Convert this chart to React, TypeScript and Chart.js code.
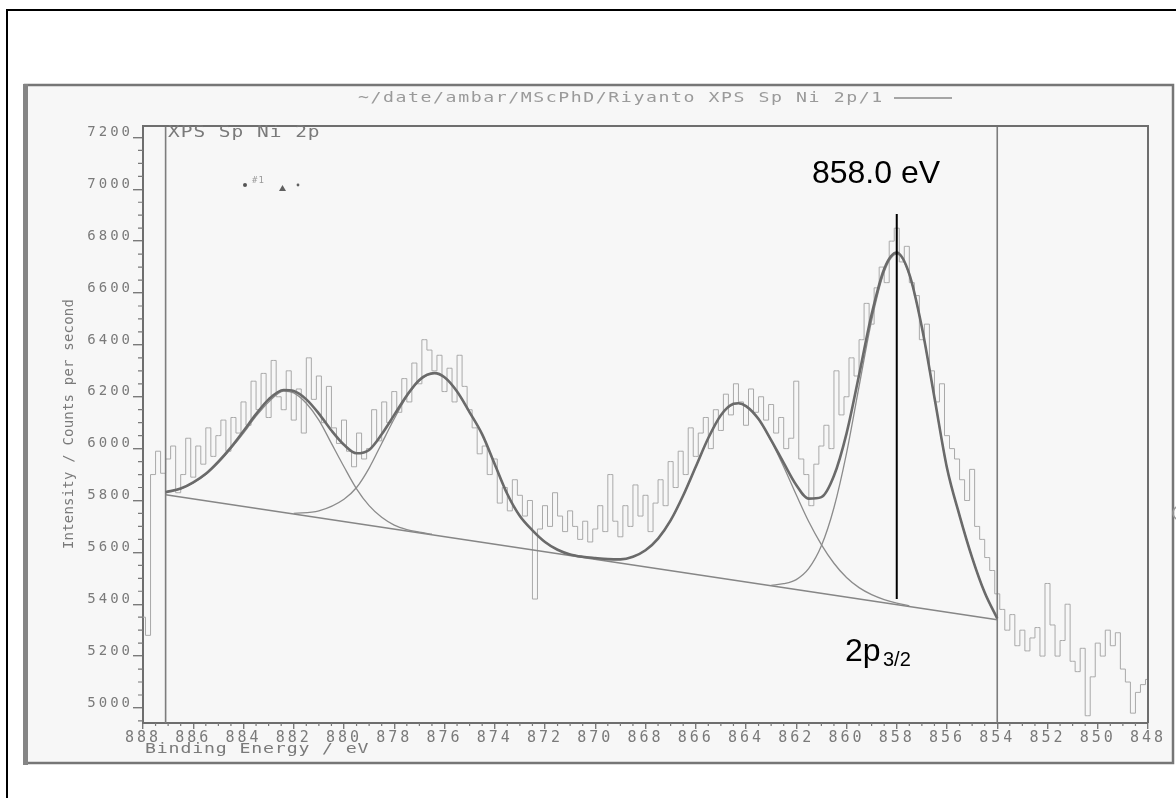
import { useEffect, useRef } from "react";
import { Chart, registerables } from "chart.js";

Chart.register(...registerables);

// Raw Ni 2p spectrum, counts per second, sampled every 0.2 eV from 888.0 eV downwards
const RAW_FIRST_EV = 888.0;
const RAW_STEP_EV = 0.2;
const RAW_CPS = [
  5350, 5280, 5900, 5990, 5905, 5960, 6010, 5830, 5900, 6040,
  5890, 6010, 5940, 6080, 5970, 6050, 6110, 5990, 6120, 6060,
  6180, 6090, 6260, 6150, 6290, 6120, 6340, 6200, 6150, 6300,
  6110, 6230, 6060, 6350, 6190, 6280, 6100, 6240, 6080, 6020,
  6110, 5990, 5930, 6060, 5960, 6000, 6150, 6030, 6180, 6100,
  6220, 6140, 6270, 6180, 6330, 6250, 6420, 6380, 6300, 6360,
  6220, 6310, 6180, 6360, 6240, 6150, 6080, 5980, 6010, 5900,
  5960, 5790, 5850, 5760, 5880, 5820, 5740, 5800, 5420, 5690,
  5780, 5700, 5830, 5740, 5680, 5760, 5700, 5650, 5720, 5640,
  5690, 5780, 5680, 5900, 5720, 5660, 5780, 5700, 5860, 5740,
  5820, 5680, 5790, 5880, 5780, 5950, 5850, 5990, 5900, 6080,
  5970, 6060, 6120, 6000, 6150, 6070, 6210, 6130, 6250, 6180,
  6090, 6230, 6140, 6200, 6110, 6170, 6060, 6120, 6000, 6040,
  6260, 5960, 5900, 5780, 5940, 6010, 6090, 6000, 6300, 6130,
  6200, 6350, 6280, 6420, 6560, 6480, 6620, 6700, 6640, 6800,
  6850, 6720, 6780, 6640, 6590, 6420, 6480, 6300, 6180, 6250,
  6050, 6000, 5960, 5880, 5800, 5920, 5700, 5650, 5580, 5530,
  5440, 5380, 5300, 5360, 5240, 5300, 5220, 5270, 5310, 5200,
  5480, 5320, 5200, 5260, 5400, 5180, 5140, 5230, 4970, 5120,
  5250, 5200, 5300, 5240, 5290, 5150, 5100, 4980, 5060, 5090,
  5110,
];

// Fitted envelope
const ENV_EV = [
  887.1, 886.5, 886.0, 885.5, 885.0, 884.5, 884.0, 883.5, 883.0, 882.4,
  882.0, 881.5, 881.0, 880.5, 880.0, 879.5, 879.0, 878.5, 878.0, 877.5,
  877.0, 876.4, 876.0, 875.5, 875.0, 874.5, 874.0, 873.5, 873.0, 872.5,
  872.0, 871.5, 871.0, 870.5, 870.0, 869.5, 869.0, 868.5, 868.0, 867.5,
  867.0, 866.5, 866.0, 865.5, 865.0, 864.5, 864.3, 864.0, 863.5, 863.0,
  862.5, 862.0, 861.5, 861.0, 860.5, 860.0, 859.5, 859.0, 858.5, 858.0,
  857.5, 857.0, 856.5, 856.0, 855.5, 855.0, 854.5, 854.0,
];
const ENV_CPS = [
  5832, 5846, 5870, 5903, 5950, 6005, 6068, 6133, 6190, 6226,
  6222, 6190, 6135, 6070, 6015, 5982, 5995, 6055, 6130, 6205,
  6265, 6291, 6275, 6220, 6140, 6055, 5940, 5825, 5740, 5685,
  5640, 5610, 5592, 5583, 5578, 5574, 5573, 5583, 5608, 5653,
  5723, 5819, 5930, 6041, 6129, 6173, 6175, 6164, 6114, 6033,
  5945, 5860, 5807, 5813, 5895, 6058, 6284, 6518, 6693, 6756,
  6673, 6468, 6197, 5925, 5742, 5580, 5445, 5345,
];

// Fit components (satellite and main lines)
const COMP1_EV = [887.1, 886.5, 886.0, 885.5, 885.0, 884.5, 884.0, 883.5, 883.0, 882.4, 882.0, 881.5, 881.0, 880.5, 880.0, 879.5, 879.0, 878.5, 878.0, 877.5, 877.0, 876.5];
const COMP1_CPS = [5832, 5845, 5868, 5900, 5945, 6000, 6060, 6125, 6180, 6222, 6215, 6175, 6110, 6020, 5930, 5845, 5780, 5735, 5705, 5688, 5678, 5670];
const COMP2_EV = [882.0, 881.0, 880.0, 879.5, 879.0, 878.5, 878.0, 877.5, 877.0, 876.4, 876.0, 875.5, 875.0, 874.5, 874.0, 873.5, 873.0, 872.5, 872.0, 871.5, 871.0, 870.5];
const COMP2_CPS = [5750, 5760, 5805, 5850, 5925, 6020, 6115, 6200, 6262, 6291, 6275, 6220, 6140, 6055, 5940, 5825, 5740, 5685, 5640, 5610, 5592, 5582];
const COMP3_EV = [870.0, 869.0, 868.0, 867.5, 867.0, 866.5, 866.0, 865.5, 865.0, 864.3, 864.0, 863.5, 863.0, 862.5, 862.0, 861.5, 861.0, 860.5, 860.0, 859.5, 859.0, 858.5, 858.0, 857.5];
const COMP3_CPS = [5576, 5573, 5608, 5653, 5723, 5819, 5930, 6041, 6129, 6175, 6164, 6113, 6031, 5930, 5822, 5718, 5630, 5558, 5503, 5464, 5437, 5418, 5404, 5394];
const COMP4_EV = [863.0, 862.5, 862.0, 861.5, 861.0, 860.5, 860.0, 859.5, 859.0, 858.5, 858.0, 857.5, 857.0, 856.5, 856.0, 855.5, 855.0, 854.5, 854.0];
const COMP4_CPS = [5473, 5479, 5495, 5538, 5625, 5772, 5982, 6240, 6494, 6681, 6750, 6670, 6467, 6197, 5925, 5742, 5580, 5445, 5345];

// Linear background under the fit
const BASE_EV = [887.1, 854.0];
const BASE_CPS = [5822, 5340];

// Fit window limits
const FIT_LIMITS_EV = [887.1, 854.0];

// 2p3/2 peak marker
const PEAK_EV = 858.0;
const PEAK_MARK_CPS = [5420, 6905];

const X_RANGE = [848, 888];
const Y_RANGE = [4942, 7244];
const X_TICKS = [848, 850, 852, 854, 856, 858, 860, 862, 864, 866, 868, 870, 872, 874, 876, 878, 880, 882, 884, 886, 888];
const Y_TICKS = [5000, 5200, 5400, 5600, 5800, 6000, 6200, 6400, 6600, 6800, 7000, 7200];

const MONO = "'DejaVu Sans Mono', 'Liberation Mono', monospace";
const SANS = "'Liberation Sans', Arial, sans-serif";
const SCAN_TEXT = "#7a7a7a";

const pts = (ev: number[], cps: number[]) => ev.map((e, i) => ({ x: e, y: cps[i] }));

// Text in the plotter style: optionally stretched horizontally
function drawText(ctx: any, s: string, x: number, y: number, font: string, color: string, spacing: number, align = "left", baseline = "middle", stretch = 1) {
  ctx.save();
  ctx.translate(x, y);
  ctx.scale(stretch, 1);
  ctx.font = font;
  ctx.fillStyle = color;
  ctx.letterSpacing = `${spacing}px`;
  ctx.textAlign = align;
  ctx.textBaseline = baseline;
  ctx.fillText(s, 0, 0);
  ctx.restore();
}

const scanSheet = {
  id: "scanSheet",
  beforeDraw(chart: any) {
    const ctx = chart.ctx;
    ctx.save();
    ctx.fillStyle = "#ffffff";
    ctx.fillRect(0, 0, chart.width, chart.height);
    // printed sheet
    ctx.fillStyle = "#f7f7f7";
    ctx.fillRect(25, 85, 1148, 678);
    ctx.strokeStyle = "#767676";
    ctx.lineWidth = 2.5;
    ctx.strokeRect(25, 85, 1148, 678);
    ctx.fillStyle = "#858585";
    ctx.fillRect(23, 84, 5, 681);
    // outer page rule
    ctx.strokeStyle = "#000000";
    ctx.lineWidth = 2;
    ctx.beginPath();
    ctx.moveTo(7, 798);
    ctx.lineTo(7, 10);
    ctx.lineTo(1176, 10);
    ctx.stroke();
    ctx.restore();
    ctx.letterSpacing = "3px";
  },
  afterDraw(chart: any) {
    const ctx = chart.ctx;
    const a = chart.chartArea;
    const xs = chart.scales.x;
    const ys = chart.scales.y;
    ctx.letterSpacing = "0px";
    ctx.save();
    // top and right edges of the plot box
    ctx.strokeStyle = "#6e6e6e";
    ctx.lineWidth = 2;
    ctx.beginPath();
    ctx.moveTo(a.left, a.top);
    ctx.lineTo(a.right, a.top);
    ctx.lineTo(a.right, a.bottom);
    ctx.stroke();
    // minor ticks
    ctx.strokeStyle = "#7a7a7a";
    ctx.lineWidth = 1.2;
    ctx.beginPath();
    for (let v = 4950; v <= Y_RANGE[1]; v += 50) {
      if (v % 200 === 0) continue;
      const py = ys.getPixelForValue(v);
      ctx.moveTo(a.left - 5, py);
      ctx.lineTo(a.left, py);
    }
    for (let k = X_RANGE[0] * 2 + 1; k < X_RANGE[1] * 2; k++) {
      if (k % 4 === 0) continue;
      const px = xs.getPixelForValue(k / 2);
      ctx.moveTo(px, a.bottom);
      ctx.lineTo(px, a.bottom + 3);
    }
    ctx.stroke();

    // header line of the printout
    drawText(ctx, "~/date/ambar/MScPhD/Riyanto XPS Sp Ni 2p/1", 358, 98, `14px ${MONO}`, "#9a9a9a", 1.2, "left", "middle", 1.3);
    ctx.strokeStyle = "#8a8a8a";
    ctx.lineWidth = 1.5;
    ctx.beginPath();
    ctx.moveTo(894, 98);
    ctx.lineTo(952, 98);
    ctx.stroke();

    drawText(ctx, "XPS Sp Ni 2p", 168, 133, `15px ${MONO}`, SCAN_TEXT, 0.75, "left", "middle", 1.3);
    drawText(ctx, "Binding Energy / eV", 145, 749, `14px ${MONO}`, SCAN_TEXT, 0.65, "left", "middle", 1.3);

    // curve legend marker
    ctx.fillStyle = "#555555";
    ctx.beginPath();
    ctx.arc(245, 185, 2, 0, Math.PI * 2);
    ctx.fill();
    drawText(ctx, "#1", 252, 181, `9px ${MONO}`, "#9a9a9a", 1);
    ctx.fillStyle = "#606060";
    ctx.beginPath();
    ctx.moveTo(279, 191);
    ctx.lineTo(286, 191);
    ctx.lineTo(282.5, 185);
    ctx.closePath();
    ctx.fill();
    ctx.beginPath();
    ctx.arc(298, 185, 1.4, 0, Math.PI * 2);
    ctx.fill();

    // y title
    ctx.save();
    ctx.translate(69, 424);
    ctx.rotate(-Math.PI / 2);
    drawText(ctx, "Intensity / Counts per second", 0, 0, `14px ${MONO}`, SCAN_TEXT, 0.2, "center");
    ctx.restore();

    // edge mark on the right of the sheet
    ctx.strokeStyle = "#9a9a9a";
    ctx.lineWidth = 1.5;
    ctx.beginPath();
    ctx.arc(1180, 513, 7, Math.PI * 0.6, Math.PI * 1.4);
    ctx.stroke();

    // annotations
    drawText(ctx, "858.0 eV", 876, 183, `32px ${SANS}`, "#000000", 0, "center", "alphabetic");
    drawText(ctx, "2p", 845, 661, `32px ${SANS}`, "#000000", 0, "left", "alphabetic");
    drawText(ctx, "3/2", 883, 666, `20px ${SANS}`, "#000000", 0, "left", "alphabetic");
    ctx.restore();
  },
};

export default function App() {
  const ref = useRef<HTMLCanvasElement>(null);

  useEffect(() => {
    const canvas = ref.current;
    if (!canvas) return;

    const raw = RAW_CPS.map((c, i) => ({ x: RAW_FIRST_EV - i * RAW_STEP_EV, y: c }));
    const compStyle = { borderColor: "#8b8b8b", borderWidth: 1.3, cubicInterpolationMode: "monotone", order: 2 };

    const chart = new Chart(canvas, {
      type: "line",
      data: {
        datasets: [
          {
            label: "2p3/2",
            data: [{ x: PEAK_EV, y: PEAK_MARK_CPS[0] }, { x: PEAK_EV, y: PEAK_MARK_CPS[1] }],
            borderColor: "#000000",
            borderWidth: 2,
            order: 0,
          },
          {
            label: "envelope",
            data: pts(ENV_EV, ENV_CPS),
            borderColor: "#6a6a6a",
            borderWidth: 2.6,
            cubicInterpolationMode: "monotone",
            order: 1,
          },
          { label: "c1", data: pts(COMP1_EV, COMP1_CPS), ...compStyle },
          { label: "c2", data: pts(COMP2_EV, COMP2_CPS), ...compStyle },
          { label: "c3", data: pts(COMP3_EV, COMP3_CPS), ...compStyle },
          { label: "c4", data: pts(COMP4_EV, COMP4_CPS), ...compStyle },
          {
            label: "background",
            data: pts(BASE_EV, BASE_CPS),
            borderColor: "#868686",
            borderWidth: 1.5,
            order: 3,
          },
          {
            label: "fit start",
            data: [{ x: FIT_LIMITS_EV[0], y: Y_RANGE[0] }, { x: FIT_LIMITS_EV[0], y: Y_RANGE[1] }],
            borderColor: "#7d7d7d",
            borderWidth: 1.6,
            order: 4,
          },
          {
            label: "fit end",
            data: [{ x: FIT_LIMITS_EV[1], y: Y_RANGE[0] }, { x: FIT_LIMITS_EV[1], y: Y_RANGE[1] }],
            borderColor: "#7d7d7d",
            borderWidth: 1.6,
            order: 4,
          },
          {
            label: "raw",
            data: raw,
            borderColor: "#a9a9a9",
            borderWidth: 1,
            stepped: "middle",
            order: 5,
          },
        ],
      } as any,
      options: {
        responsive: false,
        maintainAspectRatio: false,
        animation: false,
        devicePixelRatio: 1,
        events: [],
        parsing: false,
        normalized: true,
        layout: { padding: { left: 0, top: 126, right: 28, bottom: 0 } },
        elements: { point: { radius: 0 }, line: { tension: 0, fill: false } },
        plugins: { legend: { display: false }, tooltip: { enabled: false }, title: { display: false } },
        scales: {
          x: {
            type: "linear",
            position: "bottom",
            reverse: true,
            min: X_RANGE[0],
            max: X_RANGE[1],
            afterFit: (s: any) => {
              s.height = 75;
            },
            afterBuildTicks: (s: any) => {
              s.ticks = X_TICKS.map((v) => ({ value: v }));
            },
            ticks: {
              autoSkip: false,
              maxRotation: 0,
              minRotation: 0,
              padding: 0,
              color: "#7a7a7a",
              font: { family: MONO, size: 15 },
              callback: (v: any) => String(v),
            },
            grid: { display: true, drawOnChartArea: false, drawTicks: true, tickLength: 6, color: "#7a7a7a", lineWidth: 1.4 },
            border: { display: true, color: "#6e6e6e", width: 2 },
          },
          y: {
            type: "linear",
            position: "left",
            min: Y_RANGE[0],
            max: Y_RANGE[1],
            afterFit: (s: any) => {
              s.width = 143;
            },
            afterBuildTicks: (s: any) => {
              s.ticks = Y_TICKS.map((v) => ({ value: v }));
            },
            ticks: {
              autoSkip: false,
              padding: 0,
              labelOffset: -5,
              crossAlign: "near",
              color: "#7a7a7a",
              font: { family: MONO, size: 14 },
              callback: (v: any) => String(v),
            },
            grid: { display: true, drawOnChartArea: false, drawTicks: true, tickLength: 10, color: "#7a7a7a", lineWidth: 1.4 },
            border: { display: true, color: "#6e6e6e", width: 2 },
          },
        },
      } as any,
      plugins: [scanSheet],
    });

    return () => chart.destroy();
  }, []);

  return (
    <div style={{ position: "absolute", left: 0, top: 0, width: 1176, height: 798, background: "#ffffff" }}>
      <canvas ref={ref} width={1176} height={798} style={{ display: "block", width: 1176, height: 798 }} />
    </div>
  );
}
